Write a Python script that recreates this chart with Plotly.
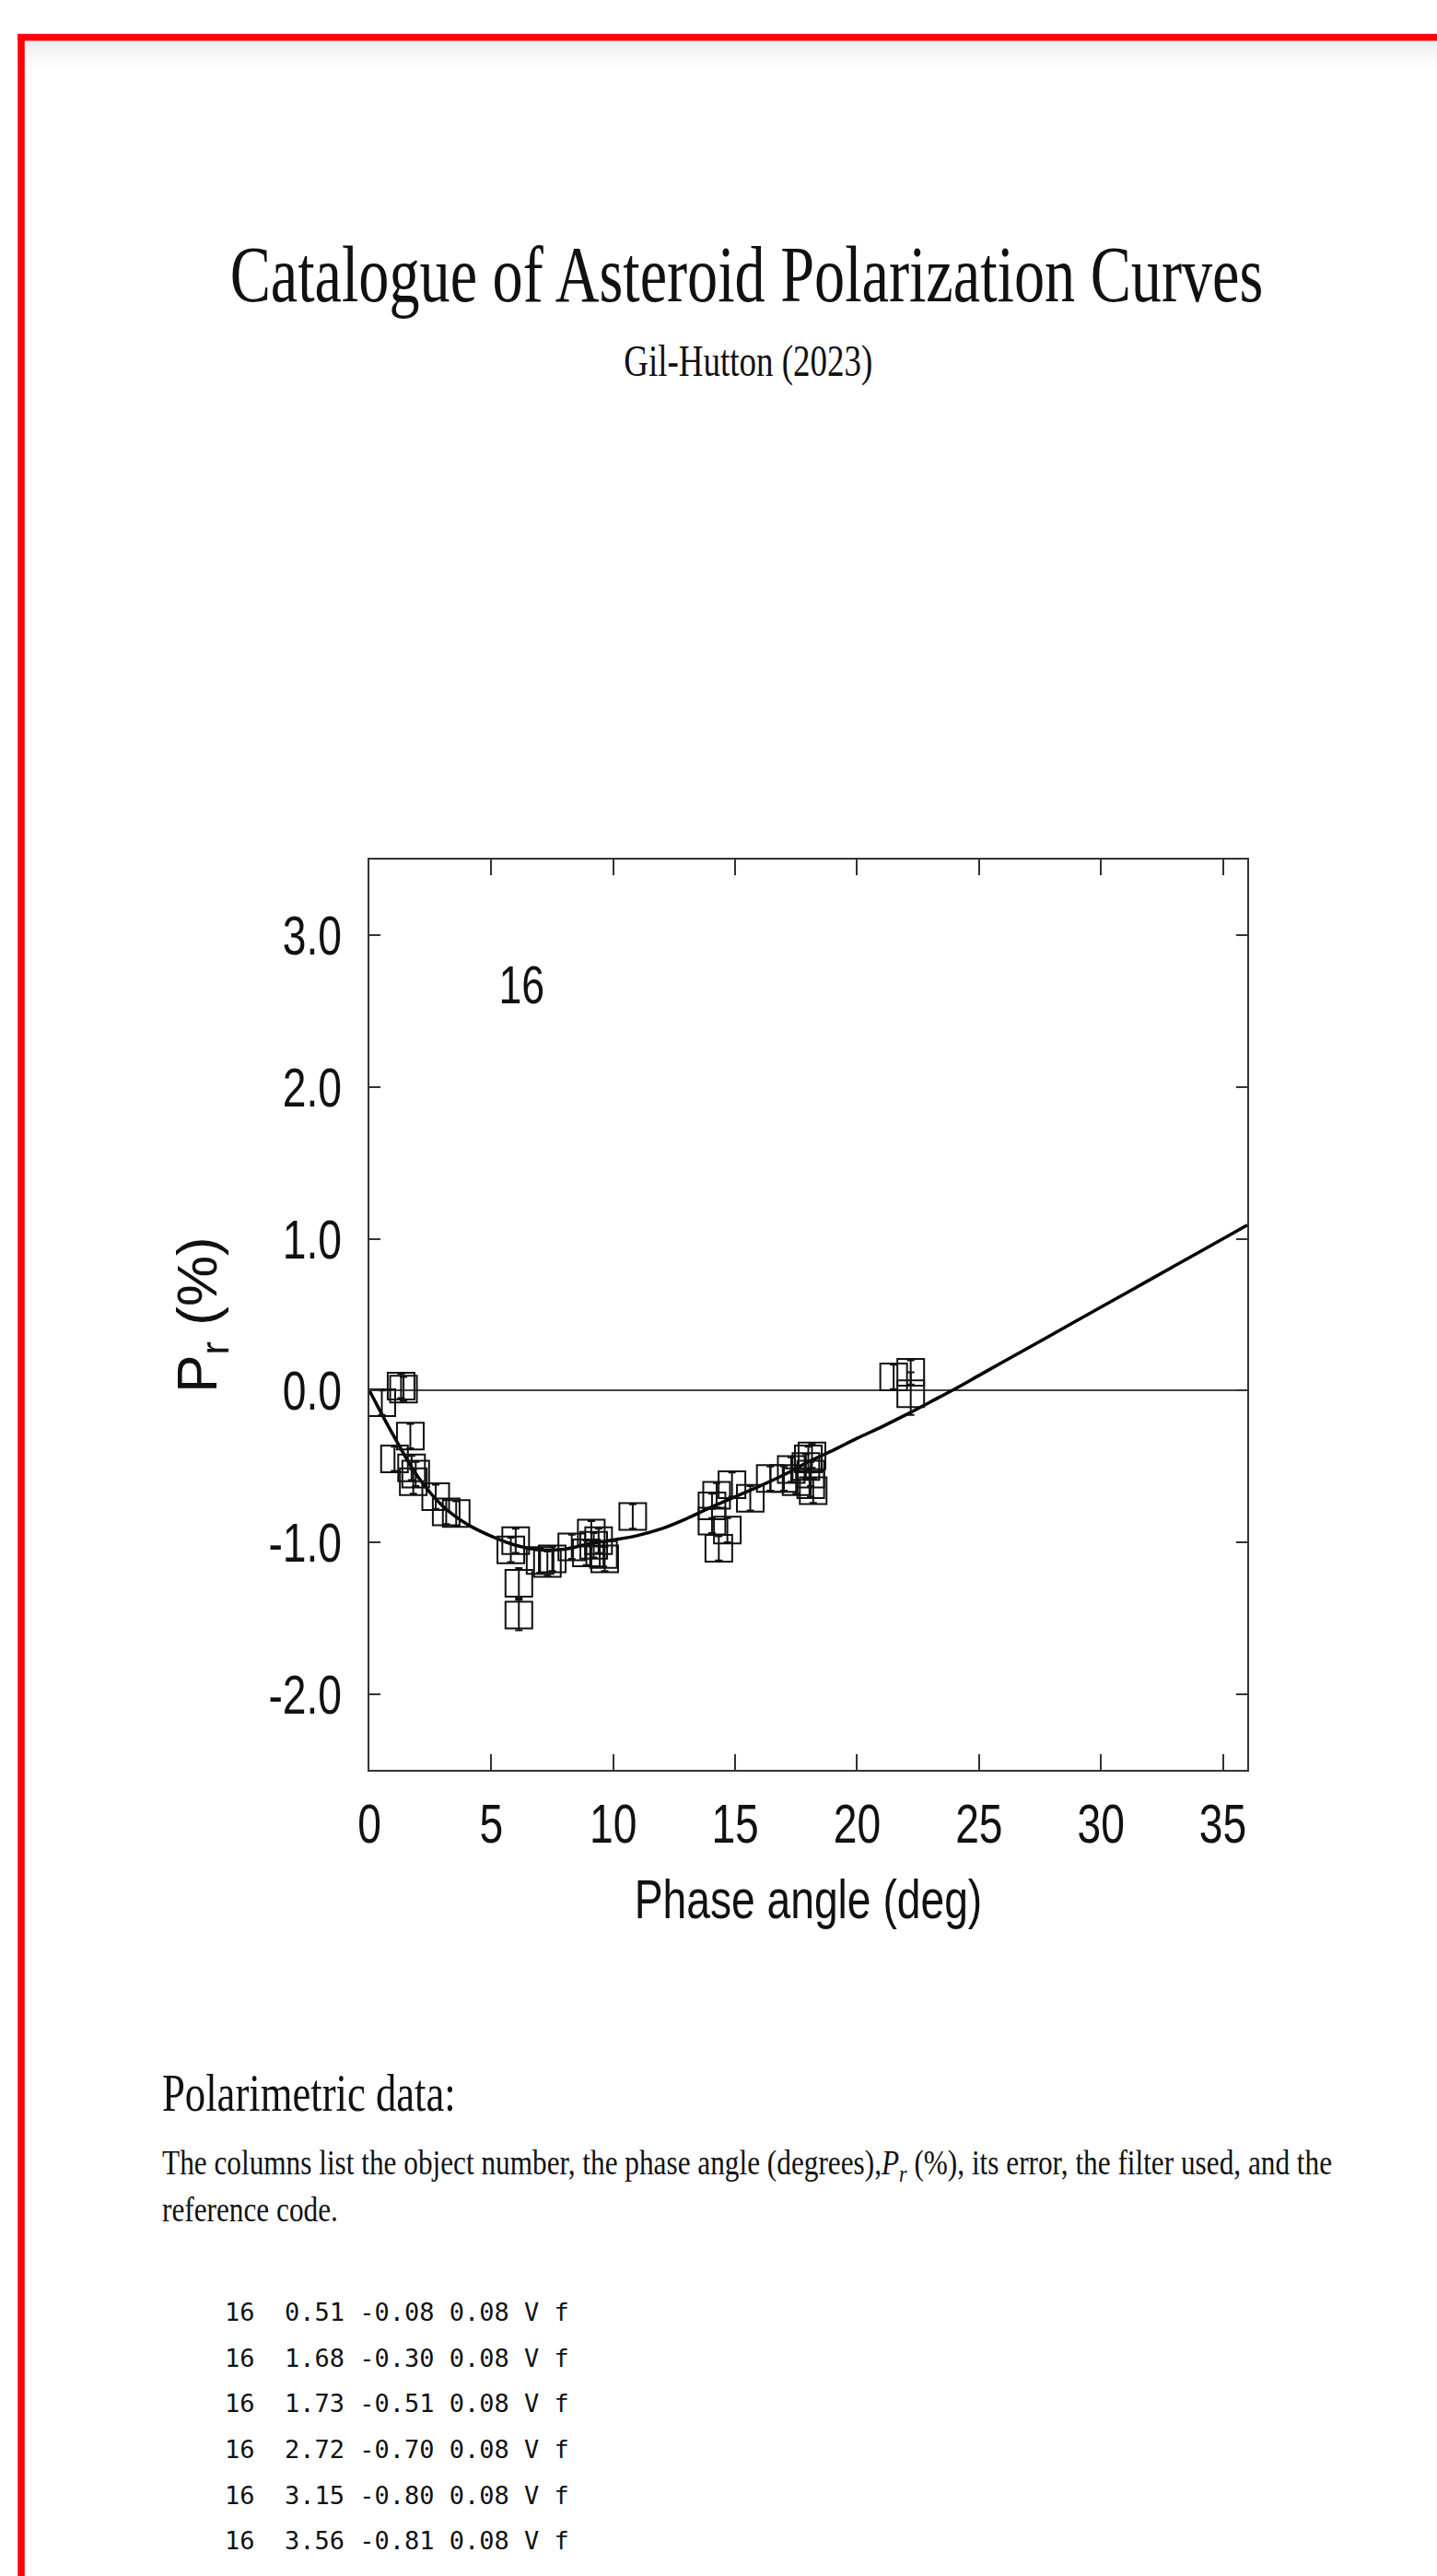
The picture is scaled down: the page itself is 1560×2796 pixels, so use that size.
import plotly.graph_objects as go

W, H = 1560, 2796

# ---------------- data ----------------
# first six rows are the ones printed in the table (reference code "f")
obj_id = [16, 16, 16, 16, 16, 16]
phase = [0.51, 1.68, 1.73, 2.72, 3.15, 3.56,
         1.03, 1.30, 1.40, 1.80, 1.90, 5.80, 6.00, 6.13, 6.13, 7.00, 7.30, 7.50,
         8.30, 8.90, 9.10, 9.20, 9.40, 9.60, 9.65, 10.80, 14.05, 14.05, 14.24,
         14.33, 14.68, 14.87, 15.62, 16.44, 17.00, 17.30, 17.50, 17.90, 18.00,
         18.10, 18.10, 18.15, 18.20, 21.50, 22.20, 22.20]
pr = [-0.08, -0.30, -0.51, -0.70, -0.80, -0.81,
      -0.45, 0.03, 0.01, -0.60, -0.55, -1.05, -0.99, -1.27, -1.48, -1.12, -1.14, -1.11,
      -1.03, -1.07, -0.94, -1.02, -0.99, -1.08, -1.11, -0.83, -0.76, -0.86, -0.69,
      -1.04, -0.92, -0.62, -0.71, -0.58, -0.58, -0.52, -0.60, -0.50, -0.45,
      -0.55, -0.62, -0.43, -0.66, 0.09, 0.12, -0.02]
pr_err = [0.08, 0.08, 0.08, 0.08, 0.08, 0.08,
          0.08, 0.08, 0.08, 0.08, 0.08, 0.08, 0.08, 0.10, 0.10, 0.08, 0.08, 0.08,
          0.08, 0.08, 0.08, 0.08, 0.08, 0.08, 0.08, 0.08, 0.08, 0.08, 0.08,
          0.08, 0.08, 0.08, 0.08, 0.08, 0.08, 0.08, 0.08, 0.08, 0.08,
          0.08, 0.08, 0.08, 0.08, 0.08, 0.08, 0.14]
filt = ["V", "V", "V", "V", "V", "V"]
ref_code = ["f", "f", "f", "f", "f", "f"]

# fitted phase-polarization curve
curve_x = [0, 1, 2, 3, 4, 5, 6, 7, 8, 9, 10, 11, 12, 13, 14, 15, 16, 17, 18,
           19, 20, 21, 22, 23, 24, 25, 26, 28, 30, 32, 34, 36]
curve_y = [0.00, -0.30, -0.57, -0.76, -0.88, -0.96, -1.02, -1.05, -1.045, -1.01,
           -0.985, -0.955, -0.91, -0.845, -0.77, -0.70, -0.63, -0.555, -0.47,
           -0.395, -0.315, -0.24, -0.16, -0.075, 0.01, 0.10, 0.19, 0.37, 0.55,
           0.73, 0.91, 1.09]

x_ticks = [0, 5, 10, 15, 20, 25, 30, 35]
x_ticktext = ["0", "5", "10", "15", "20", "25", "30", "35"]
y_ticks = [-2, -1, 0, 1, 2, 3]
y_ticktext = ["-2.0", "-1.0", "0.0", "1.0", "2.0", "3.0"]

object_label = "16"

# ---------------- helpers for page placement ----------------
def px(x):
    return x / W

def py(y):
    return 1 - y / H

SANS = "Liberation Sans, Arial, Helvetica, sans-serif"
SERIF = "Liberation Serif, Times New Roman, serif"
MONO = "DejaVu Sans Mono, Liberation Mono, monospace"
AXC = "#333333"

fig = go.Figure()

fig.add_trace(go.Scatter(
    x=curve_x, y=curve_y, mode="lines",
    line=dict(color="black", width=3.5, shape="spline"),
    hoverinfo="skip", showlegend=False))

fig.add_trace(go.Scatter(
    x=phase, y=pr, mode="markers",
    marker=dict(symbol="square-open", size=29, color="#111111",
                line=dict(width=2, color="#111111")),
    error_y=dict(type="data", array=pr_err, visible=True,
                 thickness=2, width=4, color="#111111"),
    showlegend=False))

fig.update_xaxes(
    range=[0, 36], domain=[px(401), px(1354)], automargin=False,
    tickvals=x_ticks, ticktext=x_ticktext,
    ticks="inside", ticklen=17, tickwidth=2, tickcolor=AXC,
    showline=True, linewidth=2, linecolor=AXC, mirror="ticks",
    showgrid=False, zeroline=False,
    tickfont=dict(family=SANS, size=60, color="#111"),
    ticklabelstandoff=5,
    title=dict(text="Phase angle (deg)", font=dict(family=SANS, size=60, color="#111"),
               standoff=28))

fig.update_yaxes(
    range=[-2.5, 3.5], domain=[py(1921), py(933)], automargin=False,
    tickvals=y_ticks, ticktext=y_ticktext,
    ticks="inside", ticklen=12, tickwidth=2, tickcolor=AXC,
    showline=True, linewidth=2, linecolor=AXC, mirror="ticks",
    showgrid=False, zeroline=True, zerolinewidth=2, zerolinecolor="#444444",
    tickfont=dict(family=SANS, size=60, color="#111"),
    ticklabelstandoff=16,
    title=dict(text="P<sub>r</sub> (%)", font=dict(family=SANS, size=62, color="#111"),
               standoff=12))

annotations = []
# object number inside the plot
annotations.append(dict(x=6.26, y=2.68, xref="x", yref="y", text=object_label,
                        showarrow=False, font=dict(family=SANS, size=58, color="#111"),
                        xanchor="center", yanchor="middle"))

# page title / subtitle
annotations.append(dict(x=px(810), y=py(327 - 0.3375 * 86), xref="paper", yref="paper",
                        text="Catalogue of Asteroid Polarization Curves", showarrow=False,
                        font=dict(family=SERIF, size=86, color="#111"),
                        xanchor="center", yanchor="middle"))
annotations.append(dict(x=px(812), y=py(408 - 0.3375 * 48), xref="paper", yref="paper",
                        text="Gil-Hutton (2023)", showarrow=False,
                        font=dict(family=SERIF, size=48, color="#111"),
                        xanchor="center", yanchor="middle"))

# section header and description
annotations.append(dict(x=px(174), y=py(2291 - 0.3375 * 58), xref="paper", yref="paper",
                        text="Polarimetric data:", showarrow=False,
                        font=dict(family=SERIF, size=58, color="#111"),
                        xanchor="left", yanchor="middle"))
annotations.append(dict(x=px(174), y=py(2363 - 0.3375 * 37), xref="paper", yref="paper",
                        text="The columns list the object number, the phase angle (degrees),"
                             "<i>P<sub>r</sub></i> (%), its error, the filter used, and the",
                        showarrow=False, font=dict(family=SERIF, size=37, color="#111"),
                        xanchor="left", yanchor="middle"))
annotations.append(dict(x=px(174), y=py(2411 - 0.3375 * 37), xref="paper", yref="paper",
                        text="reference code.", showarrow=False,
                        font=dict(family=SERIF, size=37, color="#111"),
                        xanchor="left", yanchor="middle"))

# data table rows
row_baselines = [2519, 2569, 2618, 2668, 2718, 2767]
for i in range(len(obj_id)):
    line = f"{obj_id[i]}  {phase[i]:.2f} {pr[i]:.2f} {pr_err[i]:.2f} {filt[i]} {ref_code[i]}"
    annotations.append(dict(x=px(242), y=py(row_baselines[i] - 0.346 * 27),
                            xref="paper", yref="paper", text=line, showarrow=False,
                            font=dict(family=MONO, size=27, color="#111"),
                            xanchor="left", yanchor="middle"))

left_idx = [i for i, a in enumerate(annotations) if a.get("xanchor") == "left"]

shapes = []
# soft shadow under the top border
for k, col in enumerate(["#efefef", "#f4f4f4", "#f8f8f8", "#fbfbfb"]):
    shapes.append(dict(type="rect", xref="paper", yref="paper",
                       x0=px(26), x1=1, y0=py(44 + 7 * (k + 1)), y1=py(44 + 7 * k),
                       line=dict(width=0), fillcolor=col, layer="below"))
# red page frame (top and left edges visible)
shapes.append(dict(type="line", xref="paper", yref="paper",
                   x0=px(19), x1=1, y0=py(40.5), y1=py(40.5),
                   line=dict(color="#ff0000", width=7.5)))
shapes.append(dict(type="line", xref="paper", yref="paper",
                   x0=px(23), x1=px(23), y0=0, y1=py(37),
                   line=dict(color="#ff0000", width=7.5)))

fig.update_layout(
    width=W, height=H,
    margin=dict(l=0, r=0, t=0, b=0, autoexpand=False),
    paper_bgcolor="white", plot_bgcolor="white",
    annotations=annotations, shapes=shapes,
    showlegend=False,
)

# page styling: no body margin; the source page is set in a condensed face,
# so horizontal text is narrowed about its anchor (rotated y title and
# monospace rows excluded)
post_js = """
document.body.style.margin = '0';
document.body.style.overflow = 'hidden';
var gd = document.getElementById('{plot_id}');
var leftIdx = LEFT_IDX;
gd.querySelectorAll('text').forEach(function (t) {
  var ff = t.style.fontFamily || '';
  if (ff.indexOf('Mono') >= 0) return;
  if (t.classList.contains('ytitle')) return;
  var bb;
  try { bb = t.getBBox(); } catch (e) { return; }
  if (!bb || !(bb.width > 0)) return;
  var fs = parseFloat(t.style.fontSize) || 0;
  var f = (fs < 40) ? 0.845 : 0.77;
  var anchor = t.getAttribute('text-anchor') || 'start';
  var ox = bb.x + bb.width / 2;
  if (anchor === 'start') ox = bb.x;
  else if (anchor === 'end') ox = bb.x + bb.width;
  var ann = t.closest('.annotation');
  if (ann && leftIdx.indexOf(parseInt(ann.getAttribute('data-index'))) >= 0) ox = bb.x;
  var old = t.getAttribute('transform') || '';
  t.setAttribute('transform', old + ' translate(' + ox + ',0) scale(' + f + ',1) translate(' + (-ox) + ',0)');
});
""".replace("LEFT_IDX", str(left_idx))

fig.write_html("out.html", post_script=post_js, config={"displayModeBar": False})
